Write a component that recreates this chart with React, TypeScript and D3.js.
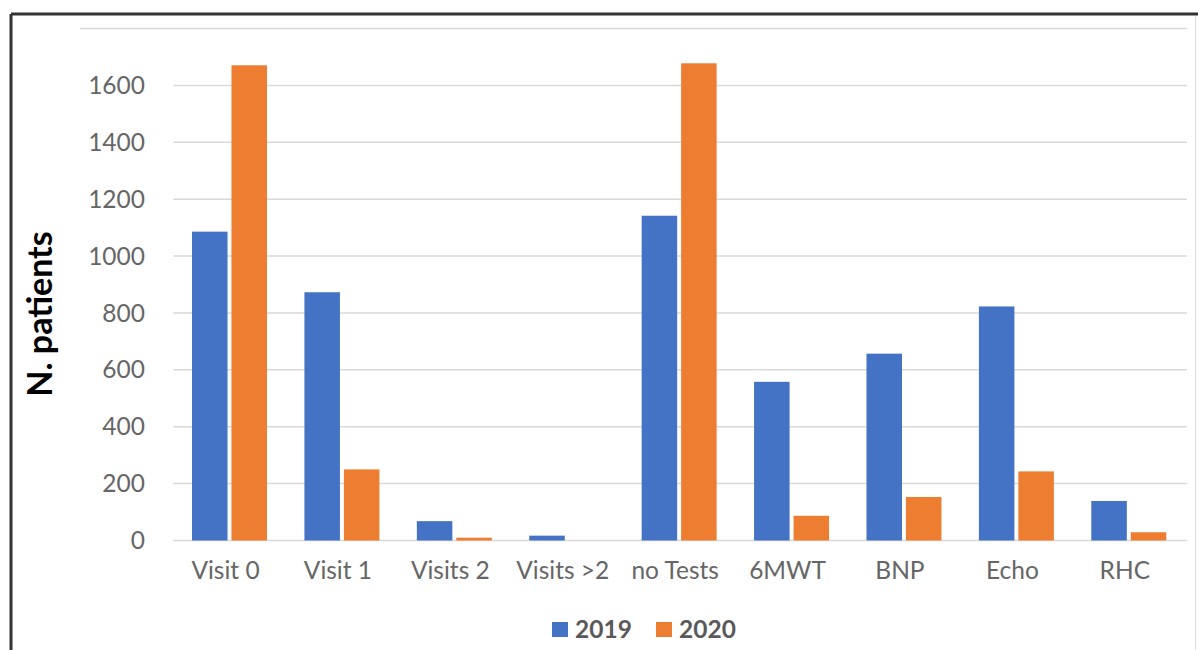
import React from "react";
import * as d3 from "d3";

const categories = ["Visit 0", "Visit 1", "Visits 2", "Visits >2", "no Tests", "6MWT", "BNP", "Echo", "RHC"];
const series2019 = [1086, 873, 68, 17, 1142, 558, 657, 823, 139];
const series2020 = [1671, 250, 10, 0, 1678, 87, 153, 243, 29];
const seriesNames = ["2019", "2020"];
const yTicks = [0, 200, 400, 600, 800, 1000, 1200, 1400, 1600];

const W = 1198;
const H = 650;
const left = 173.3;
const right = 1185;
const top = 28.6;
const bottom = 540.5;
const colors = ["#4472C4", "#ED7D31"];
const font = "Lato, 'Open Sans', sans-serif";

export default function App() {
  const x = d3.scaleBand<string>().domain(categories).range([left, right]).paddingInner(0).paddingOuter(0);
  const y = d3.scaleLinear().domain([0, 1800]).range([bottom, top]);
  const bw = x.bandwidth();
  const groupW = bw * 0.667;
  const inner = d3.scaleBand<string>().domain(seriesNames).range([0, groupW]).paddingInner(0.1);
  const data = [series2019, series2020];

  return (
    <svg width={W} height={H} style={{ position: "absolute", left: 0, top: 0, background: "#fff" }}>
      <rect x={0} y={0} width={W} height={H} fill="#fff" />
      {/* frame */}
      <line x1={11} y1={14} x2={W} y2={14} stroke="#333" strokeWidth={3} />
      <line x1={11} y1={14} x2={11} y2={H} stroke="#333" strokeWidth={3} />
      <line x1={1195.5} y1={16} x2={1195.5} y2={H} stroke="#ddd" strokeWidth={1} />
      {/* top gridline */}
      <line x1={80} x2={right + 2} y1={y(1800)} y2={y(1800)} stroke="#d9d9d9" strokeWidth={1.5} />
      {yTicks.map((t) => (
        <g key={t}>
          <line x1={left} x2={right + 2} y1={y(t)} y2={y(t)} stroke="#d9d9d9" strokeWidth={1.5} />
          <text x={145} y={y(t)} dy="0.35em" textAnchor="end" fontFamily={font} fontSize={24.5} fill="#666">
            {t}
          </text>
        </g>
      ))}
      {categories.map((c, i) => {
        const gx = (x(c) as number) + (bw - groupW) / 2;
        return (
          <g key={c}>
            {seriesNames.map((s, k) => {
              const v = data[k][i];
              if (v <= 0) return null;
              return (
                <rect
                  key={s}
                  x={gx + (inner(s) as number)}
                  y={y(v)}
                  width={inner.bandwidth()}
                  height={y(0) - y(v)}
                  fill={colors[k]}
                />
              );
            })}
            <text x={(x(c) as number) + bw / 2 - 4} y={579} textAnchor="middle" fontFamily={font} fontSize={24.5} fill="#666">
              {c}
            </text>
          </g>
        );
      })}
      <text
        transform={`translate(52,314) rotate(-90)`}
        textAnchor="middle"
        fontFamily={font}
        fontSize={34}
        fontWeight="bold"
        fill="#000"
      >
        N. patients
      </text>
      {/* legend */}
      {seriesNames.map((s, k) => (
        <g key={s} transform={`translate(${552 + k * 104},622)`}>
          <rect x={0} y={0} width={16} height={15} fill={colors[k]} />
          <text x={23} y={7.5} dy="0.35em" fontFamily={font} fontSize={24.5} fontWeight="bold" fill="#595959">
            {s}
          </text>
        </g>
      ))}
    </svg>
  );
}
